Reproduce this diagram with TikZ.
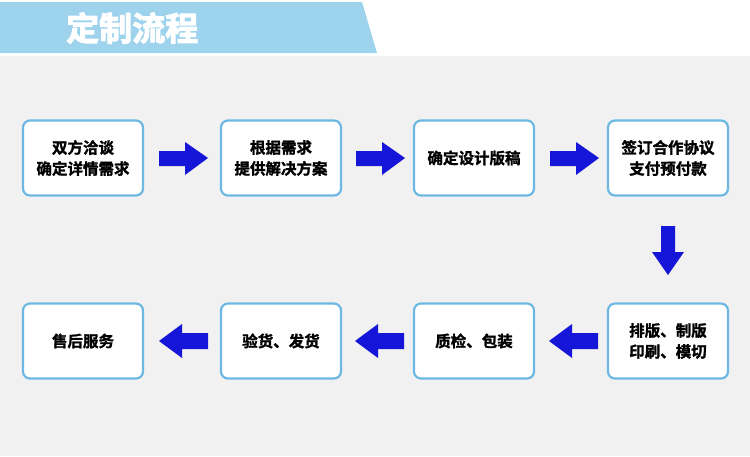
\documentclass[tikz,border=0pt]{standalone}
\usepackage{fontspec}
\newfontfamily\cjk[FakeBold=1.5]{Noto Sans CJK SC Bold}
\newfontfamily\cjkt[FakeBold=3]{Noto Sans CJK SC Bold}
\definecolor{hdr}{HTML}{9ED3EE}
\definecolor{bgc}{HTML}{F1F1F1}
\definecolor{bd}{HTML}{6DB8E2}
\definecolor{arr}{HTML}{1616D8}
\begin{document}
\begin{tikzpicture}[x=1pt,y=-1pt,
  box/.style={draw=bd,line width=2.2pt,fill=white,rounded corners=7pt,minimum width=120pt,minimum height=75pt,align=center,font=\cjk\fontsize{15.5}{21}\selectfont,inner sep=0pt},
  barr/.style={fill=arr}]
\useasboundingbox (0,0) rectangle (750,456);
\fill[white] (0,0) rectangle (750,456);
\fill[bgc] (0,56) rectangle (750,456);
\fill[hdr] (0,2) -- (362,2) -- (377,53) -- (0,53) -- cycle;
\node[text=white,font=\cjkt\fontsize{33}{33}\selectfont,anchor=west,inner sep=0pt] (title) at (66,28) {定制流程};
\node[box] (a) at (83,158) {双方洽谈\\确定详情需求};
\node[box] (b) at (281,158) {根据需求\\提供解决方案};
\node[box] (c) at (474,158) {确定设计版稿};
\node[box] (d) at (668,158) {签订合作协议\\支付预付款};
\node[box] (e) at (668,341) {排版、制版\\印刷、模切};
\node[box] (f) at (474,341) {质检、包装};
\node[box] (g) at (281,341) {验货、发货};
\node[box] (h) at (83,341) {售后服务};
\foreach \x in {159,356,550}{
  \fill[barr] (\x,151) -- (\x+26,151) -- (\x+26,142) -- (\x+49,158) -- (\x+26,175) -- (\x+26,166) -- (\x,166) -- cycle;}
\foreach \x in {208,404,598}{
  \fill[barr] (\x,333) -- (\x-26,333) -- (\x-26,324) -- (\x-49,341) -- (\x-26,358) -- (\x-26,349) -- (\x,349) -- cycle;}
\fill[barr] (661,226) -- (661,252) -- (652,252) -- (668,275) -- (684,252) -- (675,252) -- (675,226) -- cycle;
\end{tikzpicture}
\end{document}
